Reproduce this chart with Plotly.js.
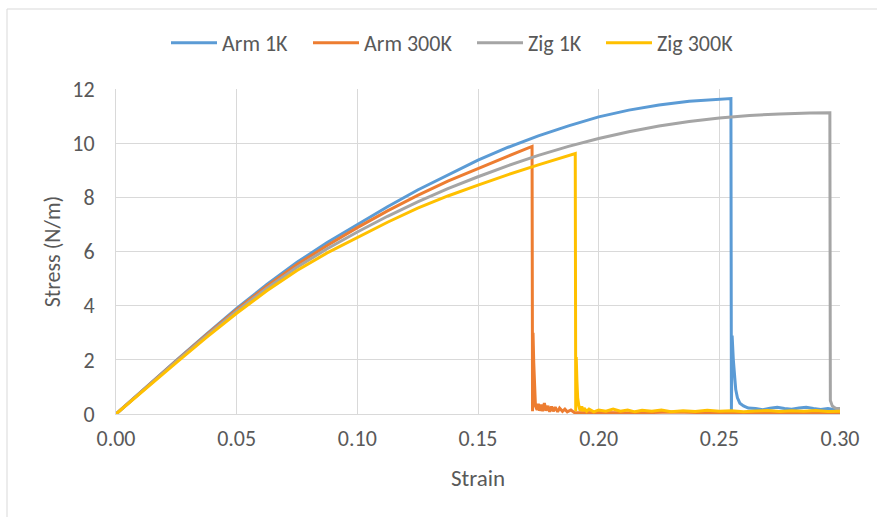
<!DOCTYPE html>
<html>
<head>
<meta charset="utf-8">
<script src="https://cdn.plot.ly/plotly-3.0.1.min.js"></script>
<style>
  html, body { margin: 0; padding: 0; background: #ffffff; }
  #chart { width: 877px; height: 517px; }
</style>
</head>
<body>
<div id="chart"></div>
<script>
// Tensile stress-strain curves: armchair and zigzag samples at 1 K and 300 K.

const armStrain1K = [0, 0.0125, 0.025, 0.0375, 0.05, 0.0625, 0.075, 0.0875, 0.1, 0.1125, 0.125, 0.1375, 0.15, 0.1625, 0.175, 0.1875, 0.2, 0.2125, 0.225, 0.2375, 0.25, 0.2548,
  0.2550, 0.2553, 0.2558, 0.2563, 0.2568, 0.2575, 0.2585, 0.2600, 0.2620, 0.2650, 0.2680, 0.2710, 0.2740, 0.2770, 0.2800, 0.2830, 0.2860, 0.2890, 0.2920, 0.2950, 0.2980, 0.3000];
const armStress1K = [0, 1.0, 1.98, 2.95, 3.9, 4.78, 5.6, 6.33, 7.0, 7.65, 8.27, 8.83, 9.37, 9.85, 10.27, 10.64, 10.97, 11.22, 11.41, 11.55, 11.63, 11.65,
  0.15, 2.9, 2.0, 1.4, 0.9, 0.6, 0.4, 0.3, 0.22, 0.2, 0.16, 0.21, 0.25, 0.2, 0.18, 0.22, 0.25, 0.2, 0.17, 0.2, 0.16, 0.18];

const armStrain300K = [0, 0.0125, 0.025, 0.0375, 0.05, 0.0625, 0.075, 0.0875, 0.1, 0.1125, 0.125, 0.1375, 0.15, 0.1625, 0.1724,
  0.1726, 0.1728, 0.1731, 0.1734, 0.1738, 0.1745, 0.1750, 0.1755, 0.1762, 0.1768, 0.1775, 0.1782, 0.1790, 0.1797, 0.1805, 0.1812, 0.1820, 0.1830, 0.1838, 0.1850, 0.1860, 0.1870, 0.1885, 0.1900,
  0.2000, 0.2150, 0.2300, 0.2450, 0.2600, 0.2750, 0.2900, 0.3000];
const armStress300K = [0, 0.99, 1.96, 2.92, 3.85, 4.72, 5.52, 6.22, 6.88, 7.5, 8.07, 8.6, 9.07, 9.52, 9.88,
  0.1, 3.0, 1.9, 0.9, 0.3, 0.15, 0.38, 0.12, 0.35, 0.1, 0.4, 0.12, 0.3, 0.08, 0.28, 0.1, 0.25, 0.08, 0.22, 0.1, 0.18, 0.08, 0.15, 0.05,
  0.06, 0.04, 0.07, 0.05, 0.06, 0.04, 0.06, 0.05];

const zigStrain1K = [0, 0.0125, 0.025, 0.0375, 0.05, 0.0625, 0.075, 0.0875, 0.1, 0.1125, 0.125, 0.1375, 0.15, 0.1625, 0.175, 0.1875, 0.2, 0.2125, 0.225, 0.2375, 0.25, 0.2625, 0.275, 0.2875, 0.2958,
  0.2960, 0.2963, 0.2968, 0.2975, 0.2985, 0.3000];
const zigStress1K = [0, 0.98, 1.94, 2.88, 3.8, 4.64, 5.42, 6.1, 6.72, 7.3, 7.83, 8.32, 8.76, 9.17, 9.55, 9.88, 10.17, 10.42, 10.63, 10.8, 10.93, 11.02, 11.08, 11.11, 11.12,
  0.5, 0.42, 0.3, 0.25, 0.2, 0.2];

const zigStrain300K = [0, 0.0125, 0.025, 0.0375, 0.05, 0.0625, 0.075, 0.0875, 0.1, 0.1125, 0.125, 0.1375, 0.15, 0.1625, 0.175, 0.1903,
  0.1905, 0.1907, 0.1910, 0.1913, 0.1918, 0.1923, 0.1930, 0.1935, 0.1940, 0.1950, 0.1960, 0.1980, 0.2000, 0.2030, 0.2060, 0.2090, 0.2120, 0.2150, 0.2180, 0.2220, 0.2260, 0.2300,
  0.2350, 0.2400, 0.2450, 0.2500, 0.2550, 0.2600, 0.2650, 0.2700, 0.2750, 0.2800, 0.2850, 0.2900, 0.2950, 0.3000];
const zigStress300K = [0, 0.96, 1.9, 2.83, 3.72, 4.55, 5.3, 5.95, 6.53, 7.08, 7.6, 8.05, 8.45, 8.84, 9.2, 9.62,
  0.1, 2.1, 1.2, 0.6, 0.3, 0.12, 0.28, 0.1, 0.22, 0.1, 0.18, 0.08, 0.15, 0.1, 0.18, 0.1, 0.15, 0.08, 0.14, 0.1, 0.15, 0.08,
  0.12, 0.09, 0.14, 0.1, 0.12, 0.08, 0.11, 0.13, 0.09, 0.12, 0.1, 0.13, 0.09, 0.1];

const seriesNames = ["Arm 1K", "Arm 300K", "Zig 1K", "Zig 300K"];
const seriesColors = ["#5B9BD5", "#ED7D31", "#A5A5A5", "#FFC000"];

const xTickVals = [0, 0.05, 0.10, 0.15, 0.20, 0.25, 0.30];
const xTickText = ["0.00", "0.05", "0.10", "0.15", "0.20", "0.25", "0.30"];
const yTickVals = [0, 2, 4, 6, 8, 10, 12];

const xs = [armStrain1K, armStrain300K, zigStrain1K, zigStrain300K];
const ys = [armStress1K, armStress300K, zigStress1K, zigStress300K];

const FONT = "Carlito, 'Liberation Sans Narrow', 'Open Sans', sans-serif";
const TEXT = "#595959";
const GRID = "#d9d9d9";

const W = 877, H = 517;
const L = 116, R = 37, T = 89, B = 103;
const pw = W - L - R, ph = H - T - B;
// page pixels -> paper / container fractions
const px = v => (v - L) / pw;
const py = v => (H - B - v) / ph;
const cx = v => v / W;
const cy = v => 1 - v / H;

// each series gets its own legend box so the entries can be spaced freely
const legendIds = ["legend", "legend2", "legend3", "legend4"];
const legendLeft = [166, 308, 472, 601];

const traces = seriesNames.map((name, i) => ({
  type: "scatter",
  mode: "lines",
  name: name,
  legend: legendIds[i],
  x: xs[i],
  y: ys[i],
  line: { color: seriesColors[i], width: 3 },
  hoverinfo: "x+y+name"
}));

const layout = {
  width: W,
  height: H,
  margin: { l: L, r: R, t: T, b: B, pad: 0 },
  paper_bgcolor: "#ffffff",
  plot_bgcolor: "#ffffff",
  font: { family: FONT, size: 21, color: TEXT },
  showlegend: true,
  xaxis: {
    range: [0, 0.30],
    tickvals: xTickVals,
    ticktext: xTickText,
    showgrid: true,
    gridcolor: GRID,
    gridwidth: 1,
    zeroline: false,
    showline: true,
    linecolor: GRID,
    linewidth: 1,
    ticks: "",
    ticklabelstandoff: 5,
    tickfont: { family: FONT, size: 22, color: TEXT },
    title: { text: "Strain", font: { family: FONT, size: 23, color: TEXT }, standoff: 18 },
    fixedrange: true
  },
  yaxis: {
    range: [0, 12],
    tickvals: yTickVals,
    showgrid: true,
    gridcolor: GRID,
    gridwidth: 1,
    zeroline: false,
    showline: true,
    linecolor: GRID,
    linewidth: 1,
    ticks: "",
    ticklabelstandoff: 16,
    tickfont: { family: FONT, size: 22, color: TEXT },
    title: { text: "Stress (N/m)", font: { family: FONT, size: 22, color: TEXT }, standoff: 5 },
    fixedrange: true
  },
  shapes: [
    { type: "line", xref: "paper", yref: "paper", x0: px(7), x1: px(7), y0: py(9), y1: py(530),
      line: { color: GRID, width: 1 } },
    { type: "line", xref: "paper", yref: "paper", x0: px(7), x1: px(880), y0: py(9), y1: py(9),
      line: { color: GRID, width: 1 } }
  ]
};

legendIds.forEach((id, i) => {
  layout[id] = {
    orientation: "h",
    xref: "container", yref: "container",
    x: cx(legendLeft[i]), xanchor: "left",
    y: cy(43), yanchor: "middle",
    font: { family: FONT, size: 22, color: TEXT },
    bgcolor: "rgba(0,0,0,0)",
    itemwidth: 46
  };
});

Plotly.newPlot("chart", traces, layout, { displayModeBar: false, staticPlot: true });
</script>
</body>
</html>
